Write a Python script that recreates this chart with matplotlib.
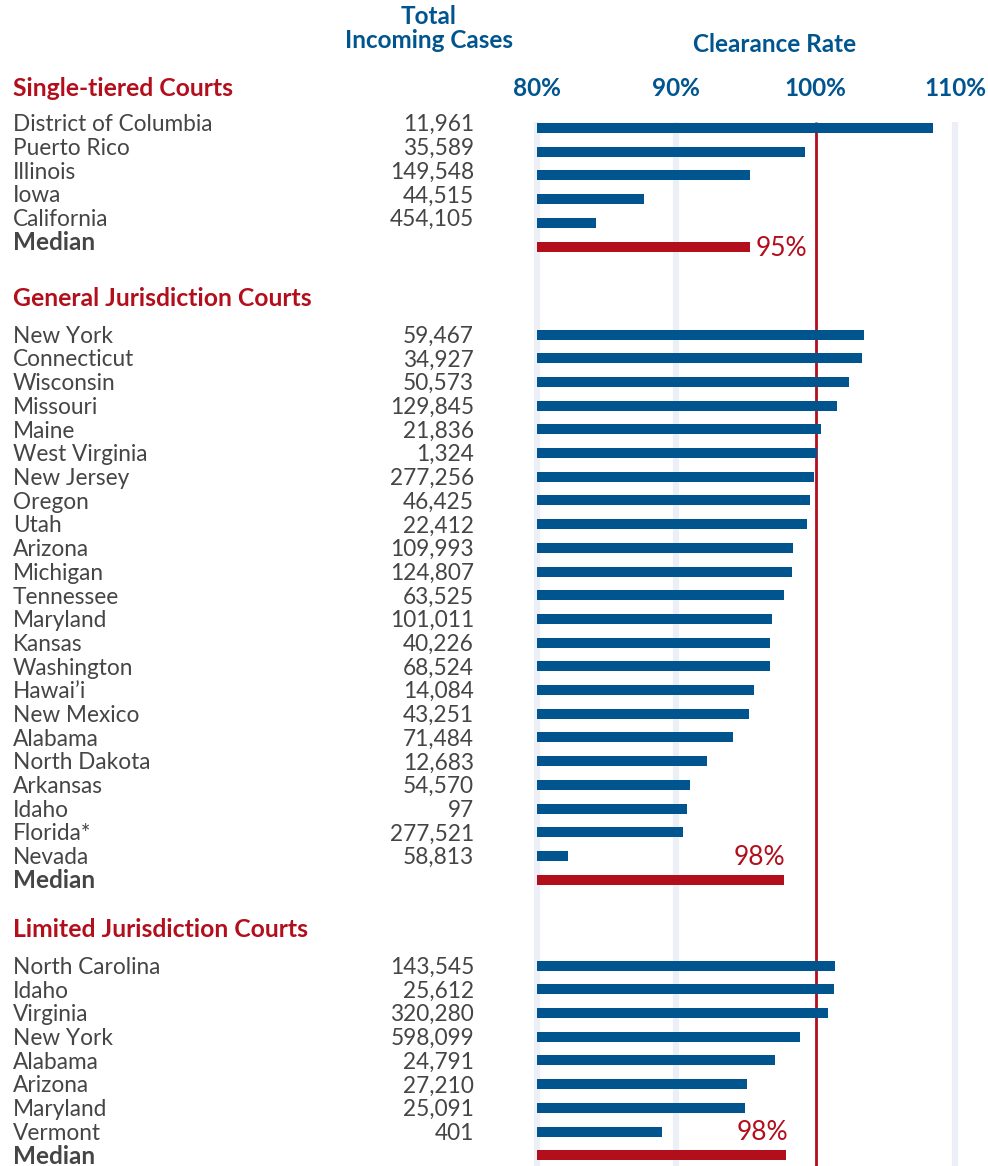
import matplotlib
matplotlib.use("Agg")
import matplotlib.pyplot as plt
from matplotlib.transforms import blended_transform_factory

# ---------------- data ----------------
section_titles = ["Single-tiered Courts", "General Jurisdiction Courts", "Limited Jurisdiction Courts"]

single_states = ["District of Columbia", "Puerto Rico", "Illinois", "Iowa", "California"]
single_cases = ["11,961", "35,589", "149,548", "44,515", "454,105"]
single_rates = [108.4, 99.2, 95.3, 87.7, 84.2]
single_median = 95.3
single_median_label = "95%"

general_states = ["New York", "Connecticut", "Wisconsin", "Missouri", "Maine", "West Virginia",
                  "New Jersey", "Oregon", "Utah", "Arizona", "Michigan", "Tennessee", "Maryland",
                  "Kansas", "Washington", "Hawai\u2019i", "New Mexico", "Alabama", "North Dakota",
                  "Arkansas", "Idaho", "Florida*", "Nevada"]
general_cases = ["59,467", "34,927", "50,573", "129,845", "21,836", "1,324", "277,256", "46,425",
                 "22,412", "109,993", "124,807", "63,525", "101,011", "40,226", "68,524", "14,084",
                 "43,251", "71,484", "12,683", "54,570", "97", "277,521", "58,813"]
general_rates = [103.5, 103.3, 102.4, 101.5, 100.4, 100.1, 99.9, 99.6, 99.4, 98.4, 98.3, 97.7,
                 96.9, 96.7, 96.7, 95.6, 95.2, 94.1, 92.2, 91.0, 90.8, 90.5, 82.2]
general_median = 97.7
general_median_label = "98%"

limited_states = ["North Carolina", "Idaho", "Virginia", "New York", "Alabama", "Arizona",
                  "Maryland", "Vermont"]
limited_cases = ["143,545", "25,612", "320,280", "598,099", "24,791", "27,210", "25,091", "401"]
limited_rates = [101.4, 101.3, 100.9, 98.9, 97.1, 95.1, 94.9, 89.0]
limited_median = 97.9
limited_median_label = "98%"

tick_values = [80, 90, 100, 110]
tick_labels = ["80%", "90%", "100%", "110%"]
reference_rate = 100
bar_start = 80

# ---------------- style ----------------
BLUE = "#00558F"
RED = "#B30E1C"
GREY = "#454545"
GRID = "#ECF0F6"
FONT = ["Lato", "DejaVu Sans"]

W, H = 988, 1166
fig = plt.figure(figsize=(W / 100, H / 100), dpi=100)
ax = fig.add_axes([0, 0, 1, 1])
px_per_pct = (955 - 537) / 30.0
ax.set_xlim(80 - 537 / px_per_pct, 80 + (W - 537) / px_per_pct)
ax.set_ylim(H, 0)
ax.axis("off")
trans = blended_transform_factory(fig.transFigure, ax.transData)

row_h = 23.7
bar_h = 10
name_x = 13 / W
num_x = 474 / W
name_size = 16.3
num_size = 16.3
cap = 8.3  # half cap height in px (for baseline alignment)

sections = [
    (single_states, single_cases, single_rates, single_median, single_median_label, "right"),
    (general_states, general_cases, general_rates, general_median, general_median_label, "above"),
    (limited_states, limited_cases, limited_rates, limited_median, limited_median_label, "above"),
]

header_y = 88
first_text_offsets = [-5, 0, 0]
header_gaps = [52, 50]
grid_top = 122

for si, (states, cases, rates, med, med_label, label_pos) in enumerate(sections):
    ax.text(name_x, header_y, section_titles[si], transform=trans, fontsize=17.8,
            fontweight="bold", color=RED, family=FONT, va="center", ha="left")
    first_row = header_y + (40 if si == 0 else 36)
    ys = [first_row + i * row_h for i in range(len(states) + 1)]
    toff = first_text_offsets[si]
    for i, (st, cs, rt) in enumerate(zip(states, cases, rates)):
        y = ys[i]
        ax.text(name_x, y + toff + cap, st, transform=trans, fontsize=name_size,
                color=GREY, family=FONT, va="baseline", ha="left", fontweight="normal")
        ax.text(num_x, y + toff + cap, cs, transform=trans, fontsize=num_size,
                color=GREY, family=FONT, va="baseline", ha="right", fontweight="normal")
        ax.barh(y, rt - bar_start, left=bar_start, height=bar_h, color=BLUE, zorder=3)
    ym = ys[-1]
    ax.text(name_x, ym + toff + cap, "Median", transform=trans, fontsize=17.5,
            color=GREY, family=FONT, va="baseline", ha="left", fontweight="bold")
    ax.barh(ym, med - bar_start, left=bar_start, height=bar_h, color=RED, zorder=3)
    if label_pos == "right":
        ax.text(med + 0.4, ym + 9, med_label, fontsize=19, color=RED, family=FONT,
                va="baseline", ha="left", zorder=4)
    else:
        ax.text(med + 0.1, ym - row_h + 9, med_label, fontsize=19, color=RED, family=FONT,
                va="baseline", ha="right", zorder=4)
    if si < len(header_gaps):
        header_y = ym + header_gaps[si]

# gridlines and reference line
for tv, tl in zip(tick_values, tick_labels):
    if tv != reference_rate:
        ax.plot([tv, tv], [grid_top, H], color=GRID, lw=4.5, zorder=1, solid_capstyle="butt")
    ax.text(tv, 87 + 8.5, tl, fontsize=17.5, fontweight="bold", color=BLUE, family=FONT,
            ha="center", va="baseline")
ax.plot([reference_rate, reference_rate], [grid_top, H], color=RED, lw=2, zorder=2,
        solid_capstyle="butt")

# column headers
fig.text(429 / W, 1 - 16 / H, "Total", fontsize=17.5, fontweight="bold", color=BLUE,
         family=FONT, ha="center", va="center")
fig.text(429 / W, 1 - 41 / H, "Incoming Cases", fontsize=17.5, fontweight="bold", color=BLUE,
         family=FONT, ha="center", va="center")
fig.text(775 / W, 1 - 45 / H, "Clearance Rate", fontsize=17.5, fontweight="bold", color=BLUE,
         family=FONT, ha="center", va="center")

fig.savefig("out.png", dpi=100)
